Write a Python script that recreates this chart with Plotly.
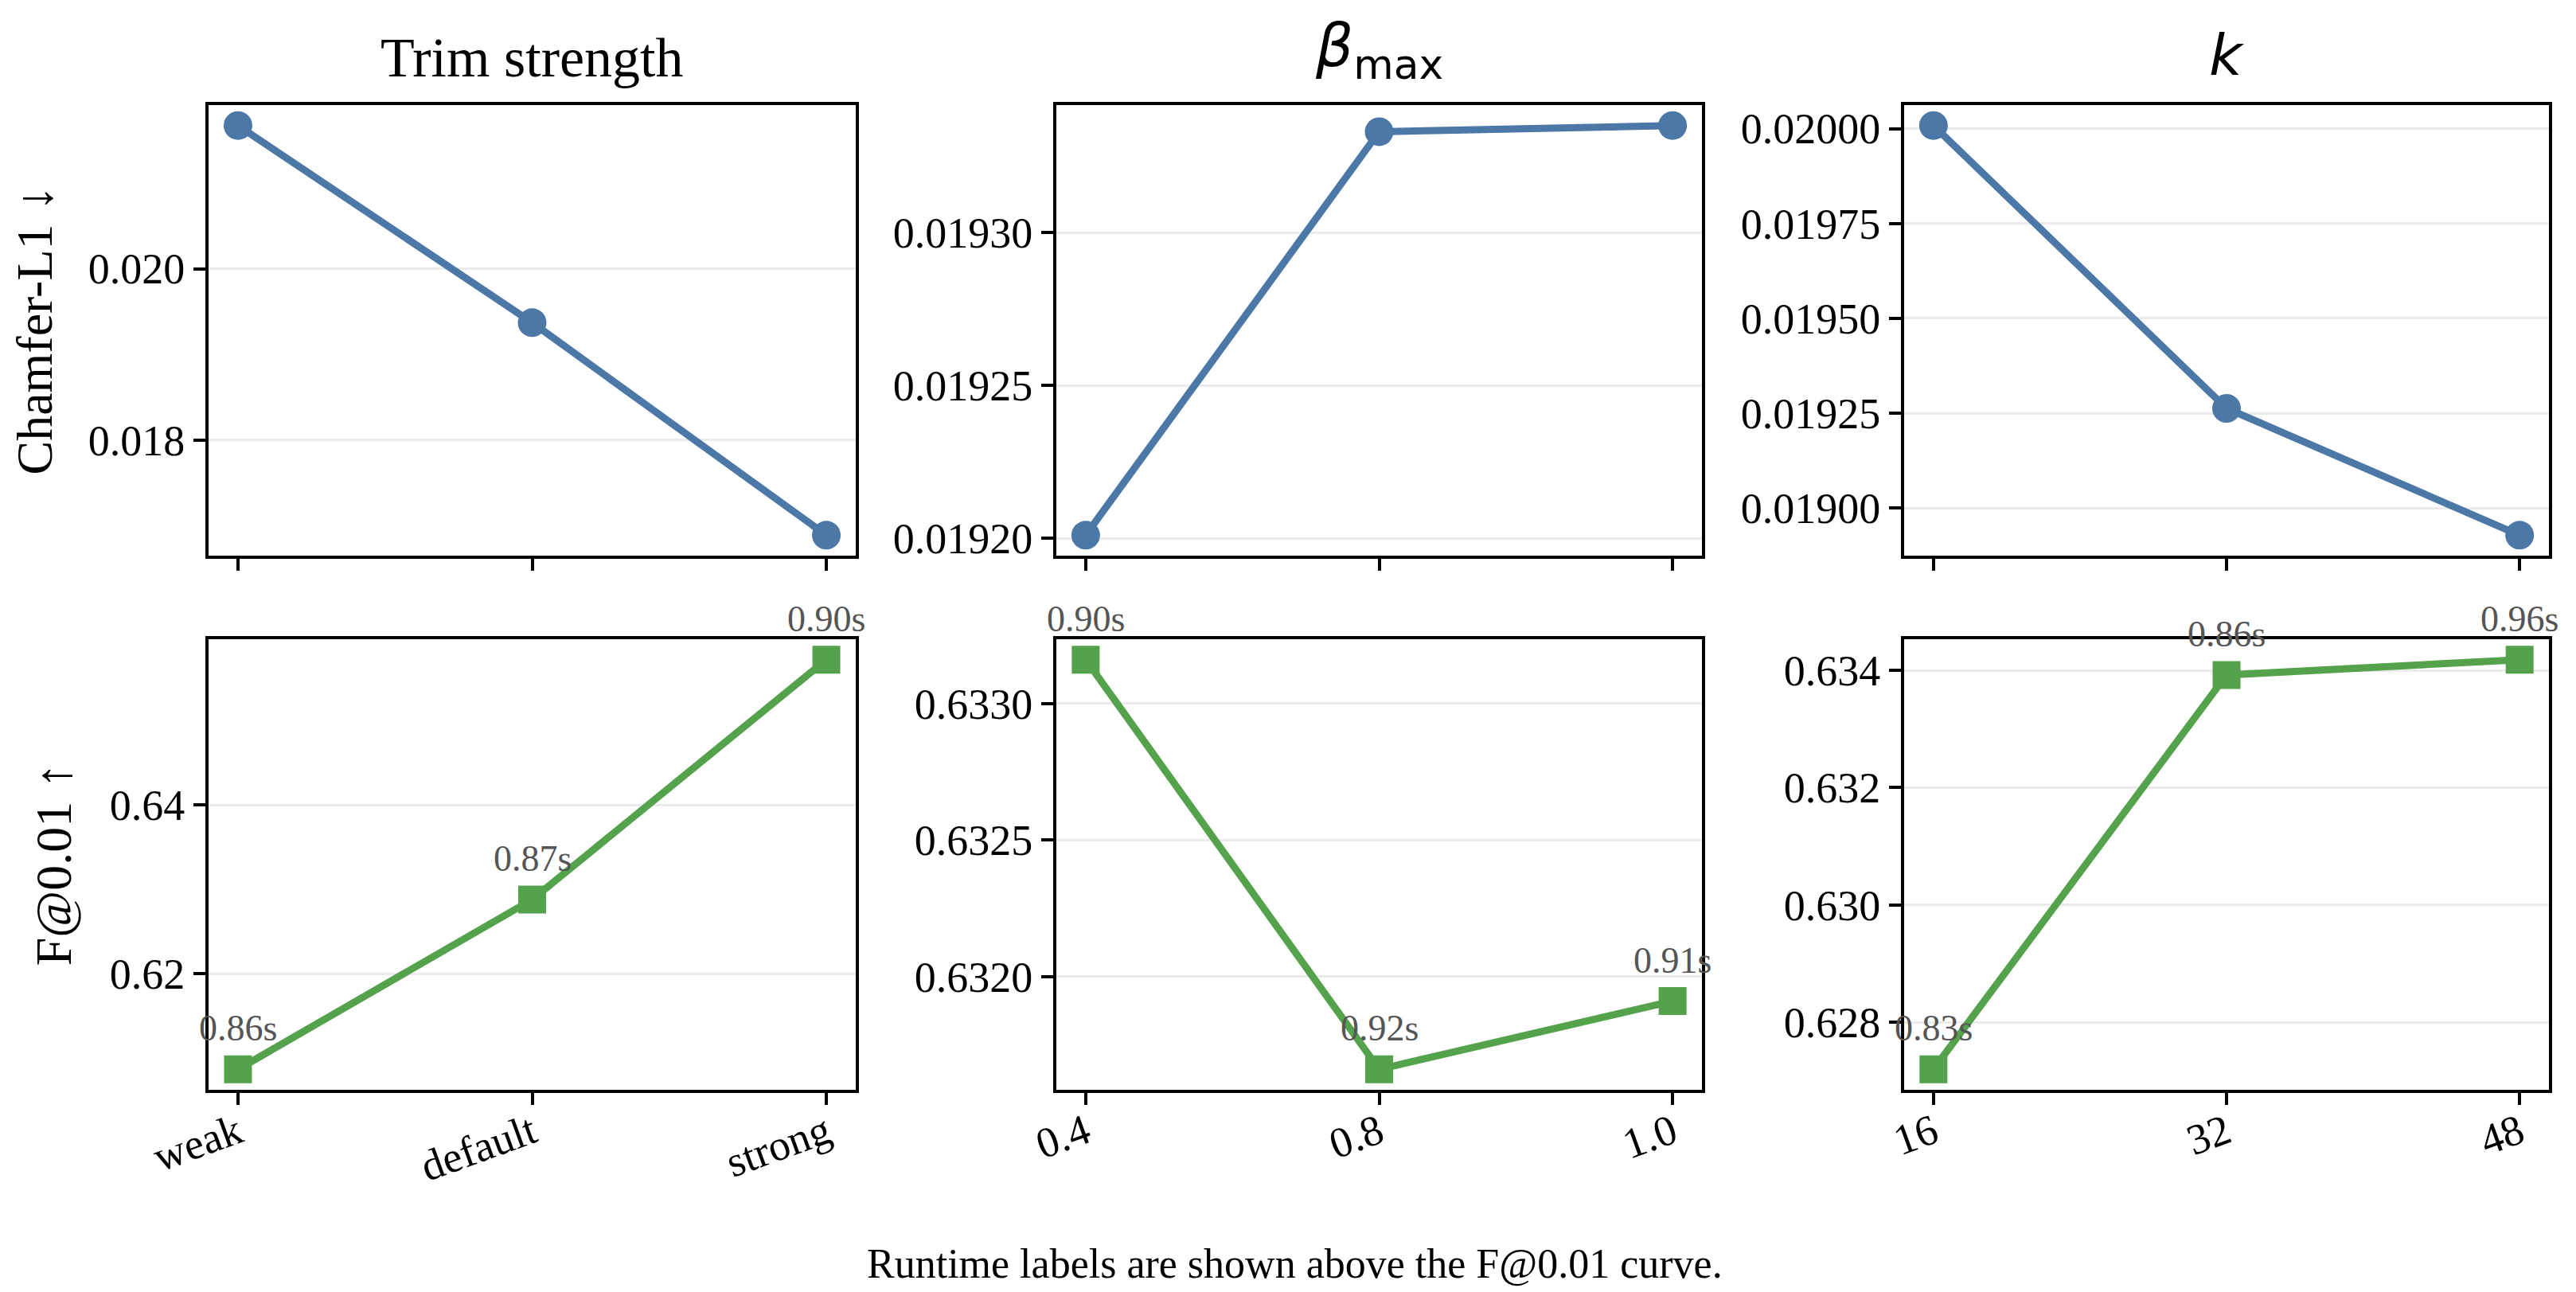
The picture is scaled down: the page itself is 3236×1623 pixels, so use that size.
import plotly.graph_objects as go
from plotly.subplots import make_subplots

# ------------------------------------------------------------------
# Data
# ------------------------------------------------------------------

trim_labels = ['weak', 'default', 'strong']
beta_labels = ['0.4', '0.8', '1.0']
k_labels = ['16', '32', '48']

# Chamfer-L1 (lower is better)
trim_chamfer = [0.02167, 0.01937, 0.01689]
beta_chamfer = [0.019201, 0.019333, 0.019335]
k_chamfer = [0.020008, 0.019263, 0.018929]

# F@0.01 (higher is better)
trim_fscore = [0.6087, 0.6288, 0.6572]
beta_fscore = [0.63316, 0.63166, 0.63191]
k_fscore = [0.62720, 0.63392, 0.63418]

# runtime per sample, printed above the F@0.01 points
trim_runtime = ['0.86s', '0.87s', '0.90s']
beta_runtime = ['0.90s', '0.92s', '0.91s']
k_runtime = ['0.83s', '0.86s', '0.96s']

col_titles = ['Trim strength', '<i>β</i><sub>max</sub>', '<i>k</i>']
col_title_fonts = ['Liberation Serif', 'DejaVu Sans', 'DejaVu Sans']
col_title_sizes = [70, 74, 72]

BLUE = '#4C78A8'
GREEN = '#54A24B'
SERIF = 'Liberation Serif'
W, H = 3236, 1623

x_domains = [(254 / W, 1067 / W), (1319 / W, 2130 / W), (2384 / W, 3194 / W)]
y_domains = [(1 - 690 / H, 1 - 124 / H), (1 - 1361 / H, 1 - 795 / H)]


def padded(vals, frac=0.05):
    lo, hi = min(vals), max(vals)
    pad = (hi - lo) * frac
    return [lo - pad, hi + pad]


fig = make_subplots(rows=2, cols=3)

columns = [
    (trim_labels, trim_chamfer, trim_fscore, trim_runtime),
    (beta_labels, beta_chamfer, beta_fscore, beta_runtime),
    (k_labels, k_chamfer, k_fscore, k_runtime),
]
chamfer_fmt = [('.3f', 0.002), ('.5f', 0.00005), ('.5f', 0.00025)]
fscore_fmt = [('.2f', 0.02), ('.4f', 0.0005), ('.3f', 0.002)]

for c, (labels, chamfer, fscore, runtime) in enumerate(columns, start=1):
    idx = list(range(len(labels)))

    fig.add_trace(go.Scatter(
        x=idx, y=chamfer, mode='lines+markers',
        line=dict(color=BLUE, width=9),
        marker=dict(symbol='circle', size=36, color=BLUE),
        showlegend=False,
    ), row=1, col=c)

    fig.add_trace(go.Scatter(
        x=idx, y=fscore, mode='lines+markers',
        line=dict(color=GREEN, width=9),
        marker=dict(symbol='square', size=35, color=GREEN),
        showlegend=False,
    ), row=2, col=c)

    for i, txt in enumerate(runtime):
        fig.add_annotation(
            x=idx[i], y=fscore[i], text=txt, showarrow=False,
            xanchor='center', yanchor='bottom', yshift=24,
            font=dict(family=SERIF, size=46, color='#555555'),
            row=2, col=c,
        )

    for r, (vals, (fmt, step)) in enumerate(
            [(chamfer, chamfer_fmt[c - 1]), (fscore, fscore_fmt[c - 1])], start=1):
        fig.update_xaxes(
            domain=x_domains[c - 1], range=[-0.1, len(labels) - 0.9],
            tickvals=idx, ticktext=labels, showticklabels=(r == 2),
            tickangle=-20, ticklabelstandoff=-18,
            ticks='outside', ticklen=15, tickwidth=4,
            tickcolor='black', showgrid=False, zeroline=False,
            showline=True, mirror=True, linecolor='black', linewidth=4,
            tickfont=dict(family=SERIF, size=54, color='black'),
            automargin=False, row=r, col=c,
        )
        fig.update_yaxes(
            domain=y_domains[r - 1], range=padded(vals),
            tick0=0, dtick=step, tickformat=fmt,
            ticks='outside', ticklen=15, tickwidth=4, tickcolor='black',
            showgrid=True, gridcolor='#ebebeb', gridwidth=3, zeroline=False,
            showline=True, mirror=True, linecolor='black', linewidth=4,
            tickfont=dict(family=SERIF, size=54, color='black'),
            automargin=False, row=r, col=c,
        )

    fig.add_annotation(
        x=sum(x_domains[c - 1]) / 2, y=y_domains[0][1], xref='paper', yref='paper',
        text=col_titles[c - 1], showarrow=False,
        xanchor='center', yanchor='bottom', yshift=19,
        font=dict(family=col_title_fonts[c - 1], size=col_title_sizes[c - 1],
                  color='black'),
    )

fig.update_yaxes(title=dict(text='Chamfer-L1 ↓', standoff=28,
                            font=dict(family=SERIF, size=64, color='black')),
                 row=1, col=1)
fig.update_yaxes(title=dict(text='F@0.01 ↑', standoff=28,
                            font=dict(family=SERIF, size=64, color='black')),
                 row=2, col=1)

fig.add_annotation(
    x=0.5, y=1 - 1579 / H, xref='paper', yref='paper',
    text='Runtime labels are shown above the F@0.01 curve.', showarrow=False,
    xanchor='center', yanchor='middle',
    font=dict(family=SERIF, size=52, color='black'),
)

fig.update_layout(
    width=W, height=H,
    margin=dict(l=0, r=0, t=0, b=0),
    paper_bgcolor='white', plot_bgcolor='white',
    font=dict(family=SERIF, color='black'),
)

fig.write_html('out.html')
